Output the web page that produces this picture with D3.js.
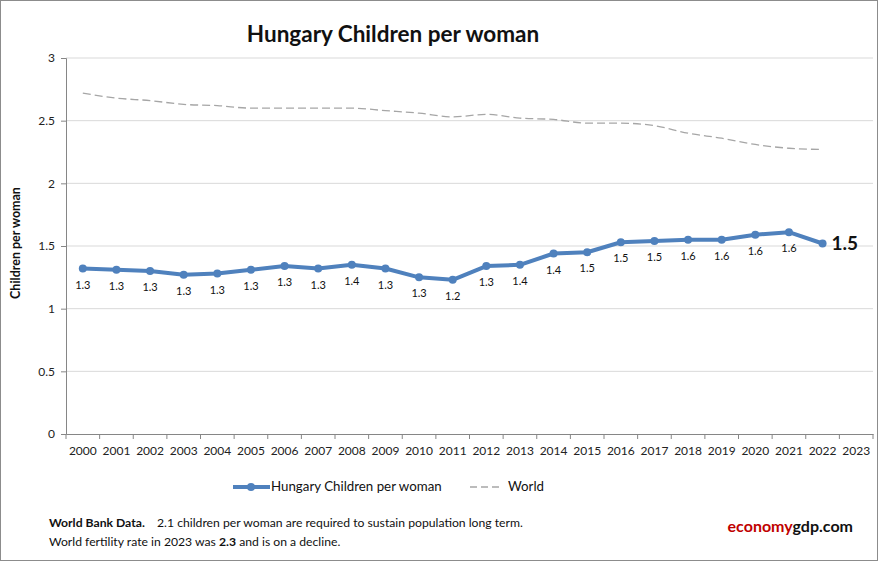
<!DOCTYPE html>
<html>
<head>
<meta charset="utf-8">
<script src="https://cdn.jsdelivr.net/npm/d3@7"></script>
<style>
  body { margin: 0; background: #fff; }
  text { font-family: Lato, "Open Sans", sans-serif; }
</style>
</head>
<body>
<script>
// chart data
var years = ["2000","2001","2002","2003","2004","2005","2006","2007","2008","2009","2010","2011",
             "2012","2013","2014","2015","2016","2017","2018","2019","2020","2021","2022","2023"];
var hungary = [1.32,1.31,1.30,1.27,1.28,1.31,1.34,1.32,1.35,1.32,1.25,1.23,
               1.34,1.35,1.44,1.45,1.53,1.54,1.55,1.55,1.59,1.61,1.52];
var hungaryLabels = ["1.3","1.3","1.3","1.3","1.3","1.3","1.3","1.3","1.4","1.3","1.3","1.2",
                     "1.3","1.4","1.4","1.5","1.5","1.5","1.6","1.6","1.6","1.6","1.5"];
var world = [2.72,2.68,2.66,2.63,2.62,2.60,2.60,2.60,2.60,2.58,2.56,2.53,
             2.55,2.52,2.51,2.48,2.48,2.46,2.40,2.36,2.31,2.28,2.27];
var yTicks = [0, 0.5, 1, 1.5, 2, 2.5, 3];

var svgWidth = 878;
var svgHeight = 561;

var margin = { top: 58, right: 5, bottom: 127, left: 66 };
var chartWidth = svgWidth - margin.left - margin.right;
var chartHeight = svgHeight - margin.top - margin.bottom;

var svg = d3.select("body")
  .append("svg")
  .attr("width", svgWidth)
  .attr("height", svgHeight);

svg.append("rect")
  .attr("x", 0.5).attr("y", 0.5)
  .attr("width", svgWidth - 1).attr("height", svgHeight - 1)
  .attr("fill", "#fff").attr("stroke", "#8c8c8c");

var chartGroup = svg.append("g")
  .attr("transform", `translate(${margin.left}, ${margin.top})`);

var xScale = d3.scaleBand().domain(years).range([0, chartWidth]);
var yScale = d3.scaleLinear().domain([0, 3]).range([chartHeight, 0]);
var xPos = d => xScale(d) + xScale.bandwidth() / 2;

// grid lines
chartGroup.append("g")
  .selectAll("line")
  .data(yTicks.slice(1))
  .enter().append("line")
  .attr("x1", 0).attr("x2", chartWidth)
  .attr("y1", d => yScale(d)).attr("y2", d => yScale(d))
  .attr("stroke", "#d9d9d9");

// y axis
var leftAxis = d3.axisLeft(yScale).tickValues(yTicks).tickSize(5).tickPadding(6)
  .tickFormat(d => d);
var yAxis = chartGroup.append("g").call(leftAxis);
yAxis.select(".domain").attr("stroke", "#868686");
yAxis.selectAll(".tick line").attr("stroke", "#868686");
yAxis.selectAll("text").attr("font-size", 12).attr("fill", "#222");

// x axis
var xAxis = chartGroup.append("g")
  .attr("transform", `translate(0, ${chartHeight})`)
  .call(d3.axisBottom(xScale).tickSize(0).tickPadding(12));
xAxis.select(".domain").attr("stroke", "#868686");
xAxis.selectAll("text").attr("font-size", 12).attr("fill", "#222");
xAxis.selectAll(".sep")
  .data(d3.range(years.length + 1))
  .enter().append("line")
  .attr("x1", i => i * xScale.bandwidth()).attr("x2", i => i * xScale.bandwidth())
  .attr("y1", 0).attr("y2", 5)
  .attr("stroke", "#868686");

// world line (smoothed, dashed)
var worldLine = d3.line()
  .x((d, i) => xPos(years[i]))
  .y(d => yScale(d))
  .curve(d3.curveMonotoneX);
chartGroup.append("path")
  .datum(world)
  .attr("d", worldLine)
  .attr("fill", "none")
  .attr("stroke", "#a6a6a6")
  .attr("stroke-width", 1.3)
  .attr("stroke-dasharray", "8,4");

// hungary line
var hunLine = d3.line()
  .x((d, i) => xPos(years[i]))
  .y(d => yScale(d));
chartGroup.append("path")
  .datum(hungary)
  .attr("d", hunLine)
  .attr("fill", "none")
  .attr("stroke", "#4f81bd")
  .attr("stroke-width", 4)
  .attr("stroke-linejoin", "round");

chartGroup.selectAll(".dot")
  .data(hungary)
  .enter().append("circle")
  .attr("cx", (d, i) => xPos(years[i]))
  .attr("cy", d => yScale(d))
  .attr("r", 4)
  .attr("fill", "#4f81bd");

var last = hungary.length - 1;
chartGroup.selectAll(".lbl")
  .data(hungary)
  .enter().append("text")
  .attr("x", (d, i) => i === last ? xPos(years[i]) + 9 : xPos(years[i]))
  .attr("y", (d, i) => i === last ? yScale(d) + 7 : yScale(d) + 20)
  .attr("text-anchor", (d, i) => i === last ? "start" : "middle")
  .attr("font-size", (d, i) => i === last ? 19 : 11)
  .attr("font-weight", (d, i) => i === last ? "bold" : "normal")
  .attr("fill", "#111")
  .text((d, i) => hungaryLabels[i]);

// title
svg.append("text")
  .attr("x", 393).attr("y", 42)
  .attr("text-anchor", "middle")
  .attr("font-size", 22.5).attr("font-weight", "bold")
  .attr("fill", "#111")
  .text("Hungary Children per woman");

// y axis title
svg.append("text")
  .attr("transform", "translate(20, 243) rotate(-90)")
  .attr("text-anchor", "middle")
  .attr("font-size", 12.5).attr("font-weight", "bold")
  .attr("fill", "#111")
  .text("Children per woman");

// legend
var legend = svg.append("g");
legend.append("line")
  .attr("x1", 233).attr("x2", 270).attr("y1", 487).attr("y2", 487)
  .attr("stroke", "#4f81bd").attr("stroke-width", 4);
legend.append("circle").attr("cx", 251).attr("cy", 487).attr("r", 4).attr("fill", "#4f81bd");
legend.append("text").attr("x", 271).attr("y", 491)
  .attr("font-size", 13.3).attr("fill", "#111").text("Hungary Children per woman");
legend.append("line")
  .attr("x1", 470).attr("x2", 502).attr("y1", 487).attr("y2", 487)
  .attr("stroke", "#a6a6a6").attr("stroke-width", 1.3).attr("stroke-dasharray", "7,4");
legend.append("text").attr("x", 508).attr("y", 491)
  .attr("font-size", 13.3).attr("fill", "#111").text("World");

// footer notes
var note1 = svg.append("text").attr("x", 49).attr("y", 527).attr("font-size", 12.2).attr("fill", "#111");
note1.append("tspan").attr("font-weight", "bold").text("World Bank Data.");
note1.append("tspan").attr("x", 157).text("2.1 children per woman are required to sustain population long term.");
var note2 = svg.append("text").attr("x", 49).attr("y", 546).attr("font-size", 12.2).attr("fill", "#111");
note2.append("tspan").text("World fertility rate in 2023 was ");
note2.append("tspan").attr("font-weight", "bold").text("2.3");
note2.append("tspan").text(" and is on a decline.");

var brand = svg.append("text").attr("x", 853).attr("y", 532)
  .attr("text-anchor", "end").attr("font-size", 16).attr("font-weight", "bold");
brand.append("tspan").attr("fill", "#c00000").text("economy");
brand.append("tspan").attr("fill", "#111").text("gdp.com");
</script>
</body>
</html>
